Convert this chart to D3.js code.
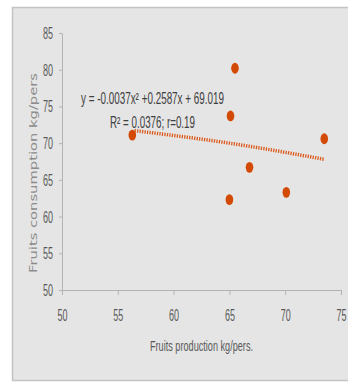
<!DOCTYPE html>
<html>
<head>
<meta charset="utf-8">
<script src="https://cdn.jsdelivr.net/npm/d3@7"></script>
<style>
body{margin:0;background:#fff;}
svg{display:block;}
</style>
</head>
<body>
<div id="Main_Part"></div>
<script>
// values
var production = [56.3, 65.5, 65.1, 73.5, 66.8, 65.0, 70.1];
var consumption = [71.1, 80.2, 73.7, 70.6, 66.7, 62.3, 63.3];
var trendX = [56.5, 65.0, 73.5];
var trendY = [71.7, 70.0, 67.8];
var xTicks = [50, 55, 60, 65, 70, 75];
var yTicks = [50, 55, 60, 65, 70, 75, 80, 85];
var equationText = "y = -0.0037x\u00b2 +0.2587x + 69.019";
var rText = "R\u00b2 = 0.0376; r=0.19";

var width = 348, height = 383;
var LabelColor = "#595959";
var NarrowFont = "'Liberation Sans Narrow', 'Liberation Sans', sans-serif";

var svg = d3.select("#Main_Part")
	.append("svg")
	.attr("width", width)
	.attr("height", height);

svg.append("rect")
	.attr("x", 12.5)
	.attr("y", 7.5)
	.attr("width", 350)
	.attr("height", 373)
	.style("fill", "#e5e5e5")
	.style("stroke", "#c4c4c4")
	.style("stroke-width", 1.5);

var x = d3.scaleLinear().domain([50, 75]).range([62, 341]);
var y = d3.scaleLinear().domain([50, 85]).range([290, 33]);

var xAxis = svg.append("g")
	.attr("transform", "translate(0,290)")
	.call(d3.axisBottom(x).tickValues(xTicks).tickSize(5).tickPadding(14).tickSizeOuter(0));

var yAxis = svg.append("g")
	.attr("transform", "translate(62,0)")
	.call(d3.axisLeft(y).tickValues(yTicks).tickSize(3).tickPadding(6).tickSizeOuter(0));

[xAxis, yAxis].forEach(function(a){
	a.select(".domain").style("stroke", "#b3b3b3");
	a.selectAll(".tick line").style("stroke", "#b3b3b3");
	a.selectAll(".tick text")
		.style("font-family", NarrowFont)
		.style("font-size", "17px")
		.style("fill", LabelColor)
		.attr("textLength", 10)
		.attr("lengthAdjust", "spacingAndGlyphs");
});

// trendline
var trendLine = d3.line()
	.x(function(d, i){ return x(trendX[i]); })
	.y(function(d){ return y(d); })
	.curve(d3.curveNatural);

svg.append("path")
	.attr("d", trendLine(trendY))
	.style("fill", "none")
	.style("stroke", "#dc5a1c")
	.style("stroke-width", 3.5)
	.style("stroke-dasharray", "1.3 1.2");

// points
svg.selectAll(".dot")
	.data(production)
	.enter()
	.append("ellipse")
	.attr("class", "dot")
	.attr("cx", function(d){ return x(d); })
	.attr("cy", function(d, i){ return y(consumption[i]); })
	.attr("rx", 3.8)
	.attr("ry", 5.4)
	.style("fill", "#d24a04");

// equation labels
svg.append("text")
	.attr("x", 81)
	.attr("y", 104)
	.attr("textLength", 143)
	.attr("lengthAdjust", "spacingAndGlyphs")
	.text(equationText)
	.style("font-family", NarrowFont)
	.style("font-size", "16px")
	.style("fill", "#404040");

svg.append("text")
	.attr("x", 110)
	.attr("y", 128)
	.attr("textLength", 85)
	.attr("lengthAdjust", "spacingAndGlyphs")
	.text(rText)
	.style("font-family", NarrowFont)
	.style("font-size", "16px")
	.style("fill", "#404040");

// axis titles
svg.append("text")
	.attr("x", 150)
	.attr("y", 351)
	.attr("textLength", 103)
	.attr("lengthAdjust", "spacingAndGlyphs")
	.text("Fruits production kg/pers.")
	.style("font-family", NarrowFont)
	.style("font-size", "15px")
	.style("fill", LabelColor);

svg.append("text")
	.attr("transform", "translate(37,173) rotate(-90)")
	.attr("text-anchor", "middle")
	.attr("textLength", 200)
	.attr("lengthAdjust", "spacingAndGlyphs")
	.text("Fruits consumption kg/pers")
	.style("font-family", "'DejaVu Sans', sans-serif")
	.style("font-size", "11px")
	.style("fill", "#8c8c8c");
</script>
</body>
</html>
